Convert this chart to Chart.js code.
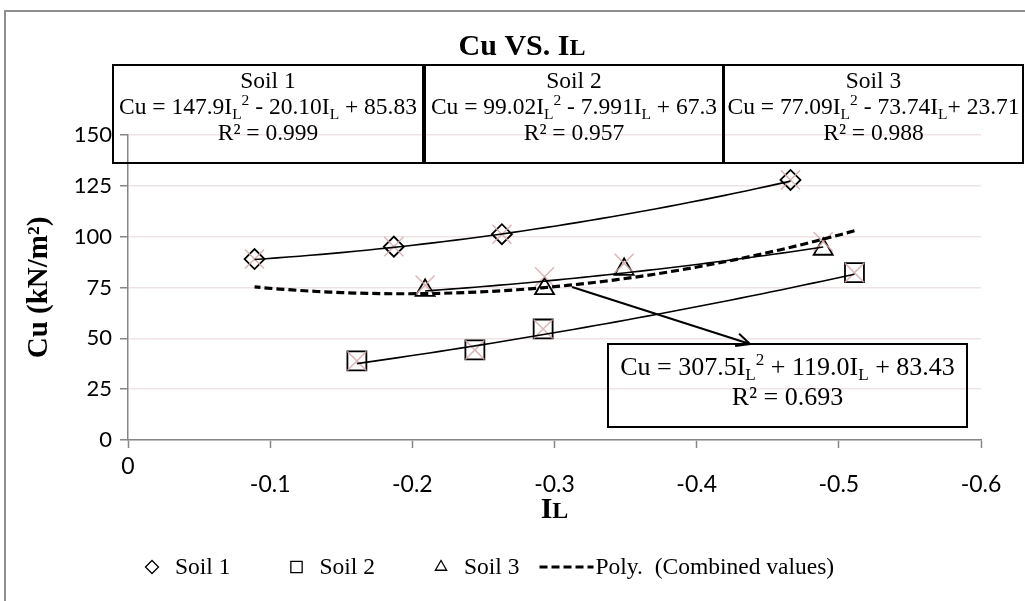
<!DOCTYPE html>
<html>
<head>
<meta charset="utf-8">
<script src="https://cdn.jsdelivr.net/npm/chart.js@4.4.1/dist/chart.umd.min.js"></script>
<style>
  html, body { margin: 0; padding: 0; background: #fff; }
  #wrap { position: relative; width: 1025px; height: 601px; overflow: hidden; }
  #frame { position: absolute; left: 4px; top: 10px; width: 1040px; height: 620px;
           border: 2px solid #8e8e8e; box-sizing: border-box; }
  #wrap canvas { position: absolute; left: 0; top: 0; }
</style>
</head>
<body>
<div id="wrap">
  <div id="frame"></div>
  <canvas id="cuChart"></canvas>
</div>
<script>
// liquidity index IL and undrained shear strength Cu (kN/m²)
const soil1IL = [-0.089, -0.187, -0.263, -0.466];
const soil1Cu = [89.0, 95.1, 101.2, 127.9];
const soil2IL = [-0.161, -0.244, -0.292, -0.511];
const soil2Cu = [38.9, 44.3, 54.6, 82.3];
const soil3IL = [-0.209, -0.293, -0.349, -0.489];
const soil3Cu = [73.6, 74.4, 83.9, 93.8];

// every sample together, plotted as light x markers
const combinedIL = [-0.089, -0.187, -0.263, -0.466, -0.161, -0.244, -0.292, -0.511, -0.209, -0.293, -0.349, -0.489];
const combinedCu = [89.0, 95.1, 101.2, 127.9, 38.9, 44.3, 54.6, 82.3, 76.2, 80.3, 86.9, 97.5];

// polynomial fits, Cu = a*IL^2 + b*IL + c
const fitBox1 = [147.9, -20.10, 85.83];
const fitBox2 = [99.02, -7.991, 67.3];
const fitBox3 = [77.09, -73.74, 23.71];
const fitCombined = [307.5, 119.0, 83.43];

const cuTicks = [0, 25, 50, 75, 100, 125, 150];
const ilTicks = [0, -0.1, -0.2, -0.3, -0.4, -0.5, -0.6];
const ilTickLabels = ['0', '-0.1', '-0.2', '-0.3', '-0.4', '-0.5', '-0.6'];

const legendOrder = ['Soil 1', 'Soil 2', 'Soil 3', 'Poly.  (Combined values)'];

const eqBoxes = [
  { x: 113, y: 65, w: 310, h: 98, lines: ['Soil 1', 'Cu = 147.9I_L^2 - 20.10I_L + 85.83', 'R² = 0.999'] },
  { x: 425, y: 65, w: 298, h: 98, lines: ['Soil 2', 'Cu = 99.02I_L^2 - 7.991I_L + 67.3', 'R² = 0.957'] },
  { x: 724, y: 65, w: 299, h: 98, lines: ['Soil 3', 'Cu = 77.09I_L^2 - 73.74I_L+ 23.71', 'R² = 0.988'] }
];
const combinedBox = { x: 608, y: 344, w: 359, h: 83, lines: ['Cu = 307.5I_L^2 + 119.0I_L + 83.43', 'R² = 0.693'] };

const SERIF = '"Liberation Serif", "Times New Roman", serif';
const SANS = 'Lato, "Liberation Sans", sans-serif';

function pairs(xs, ys) {
  return xs.map((x, i) => ({ x: x, y: ys[i] }));
}

// sample a fitted quadratic over the IL range of its samples
function trend(xs, coef) {
  const lo = Math.min(...xs), hi = Math.max(...xs);
  const pts = [];
  for (let i = 0; i <= 48; i++) {
    const x = lo + (hi - lo) * i / 48;
    pts.push({ x: x, y: coef[0] * x * x + coef[1] * x + coef[2] });
  }
  return pts;
}

// text with _x subscripts, ^x superscripts and ~x small capitals
function runsOf(str) {
  const runs = [];
  let buf = '';
  for (let i = 0; i < str.length; i++) {
    const ch = str[i];
    if ((ch === '_' || ch === '^' || ch === '~') && i + 1 < str.length) {
      if (buf) { runs.push({ t: buf, k: '' }); buf = ''; }
      runs.push({ t: str[i + 1], k: ch });
      i++;
    } else {
      buf += ch;
    }
  }
  if (buf) runs.push({ t: buf, k: '' });
  return runs;
}

function drawRich(ctx, str, cx, baseY, size, weight, family) {
  const runs = runsOf(str);
  const fontFor = k => {
    const s = k === '' ? size : (k === '~' ? size * 0.8 : size * 0.66);
    return weight + ' ' + s + 'px ' + family;
  };
  let total = 0;
  runs.forEach(r => { ctx.font = fontFor(r.k); r.w = ctx.measureText(r.t).width; total += r.w; });
  let x = cx - total / 2;
  ctx.textAlign = 'left';
  ctx.textBaseline = 'alphabetic';
  runs.forEach(r => {
    ctx.font = fontFor(r.k);
    const dy = r.k === '_' ? size * 0.2 : (r.k === '^' ? -size * 0.38 : 0);
    ctx.fillText(r.t, x, baseY + dy);
    x += r.w;
  });
}

function marker(ctx, style, x, y, r) {
  ctx.beginPath();
  if (style === 'rectRot') {
    ctx.moveTo(x - r, y); ctx.lineTo(x, y - r); ctx.lineTo(x + r, y); ctx.lineTo(x, y + r);
  } else if (style === 'rect') {
    const s = r * Math.SQRT1_2;
    ctx.rect(x - s, y - s, 2 * s, 2 * s);
  } else {
    ctx.moveTo(x, y - r);
    ctx.lineTo(x + r * Math.sin(Math.PI / 3), y + r / 2);
    ctx.lineTo(x - r * Math.sin(Math.PI / 3), y + r / 2);
  }
  ctx.closePath();
  ctx.stroke();
}

const annotations = {
  id: 'annotations',
  afterDraw(chart) {
    const ctx = chart.ctx;
    ctx.save();
    ctx.fillStyle = '#000';
    ctx.strokeStyle = '#000';

    drawRich(ctx, 'Cu VS. I~L', 522, 55, 30, 'bold', SERIF);
    drawRich(ctx, 'I~L', (chart.chartArea.left + chart.chartArea.right) / 2, 518, 30, 'bold', SERIF);

    // equation boxes
    ctx.lineWidth = 2;
    eqBoxes.forEach(b => {
      ctx.strokeRect(b.x, b.y, b.w, b.h);
      b.lines.forEach((ln, i) => drawRich(ctx, ln, b.x + b.w / 2, b.y + 23 + i * 26, 23.5, 'normal', SERIF));
    });
    ctx.strokeRect(combinedBox.x, combinedBox.y, combinedBox.w, combinedBox.h);
    combinedBox.lines.forEach((ln, i) => drawRich(ctx, ln, combinedBox.x + combinedBox.w / 2, combinedBox.y + 31 + i * 30, 26, 'normal', SERIF));

    // arrow from the dashed curve to its equation
    const x0 = 572, y0 = 287, x1 = 750, y1 = 344;
    ctx.lineWidth = 2;
    ctx.beginPath();
    ctx.moveTo(x0, y0); ctx.lineTo(x1, y1);
    const ang = Math.atan2(y1 - y0, x1 - x0);
    ctx.moveTo(x1 - 15 * Math.cos(ang - 0.45), y1 - 15 * Math.sin(ang - 0.45));
    ctx.lineTo(x1, y1);
    ctx.lineTo(x1 - 15 * Math.cos(ang + 0.45), y1 - 15 * Math.sin(ang + 0.45));
    ctx.stroke();

    // legend
    const ly = 567;
    ctx.font = '23.5px ' + SERIF;
    ctx.textBaseline = 'middle';
    ctx.textAlign = 'left';
    let x = 146;
    legendOrder.forEach(name => {
      const d = chart.data.datasets.find(s => s.label === name);
      if (d.legendStyle === 'line') {
        x -= 40;
        ctx.save();
        ctx.lineWidth = 3;
        ctx.setLineDash(d.borderDash);
        ctx.beginPath();
        ctx.moveTo(x, ly); ctx.lineTo(x + 54, ly);
        ctx.stroke();
        ctx.restore();
        x += 56;
      } else {
        ctx.lineWidth = 1.3;
        marker(ctx, d.legendStyle, x + 6, ly, d.legendStyle === 'rect' ? 8 : 6.5);
        x += 29;
      }
      ctx.fillText(name, x, ly + 1);
      x += ctx.measureText(name).width + 60;
    });
    ctx.restore();
  }
};

const datasets = [
  { label: 'trend 1', data: trend(soil1IL, fitBox1), showLine: true, pointRadius: 0, borderColor: '#000', borderWidth: 1.6 },
  { label: 'trend 2', data: trend(soil2IL, fitBox3), showLine: true, pointRadius: 0, borderColor: '#000', borderWidth: 1.6 },
  { label: 'trend 3', data: trend(soil3IL, fitBox2), showLine: true, pointRadius: 0, borderColor: '#000', borderWidth: 1.6 },
  { label: 'Poly.  (Combined values)', legendStyle: 'line', data: trend(combinedIL, fitCombined), showLine: true,
    pointRadius: 0, borderColor: '#000', borderWidth: 3.2, borderDash: [8, 4] },
  { label: 'Combined values', data: pairs(combinedIL, combinedCu), pointStyle: 'crossRot', pointRadius: 13.5,
    borderColor: 'rgba(214,170,170,0.85)', borderWidth: 1.5 },
  { label: 'Soil 1', legendStyle: 'rectRot', data: pairs(soil1IL, soil1Cu), pointStyle: 'rectRot', pointRadius: 10,
    borderColor: '#000', backgroundColor: 'rgba(0,0,0,0)', borderWidth: 1.8 },
  { label: 'Soil 2', legendStyle: 'rect', data: pairs(soil2IL, soil2Cu), pointStyle: 'rect', pointRadius: 13.4,
    borderColor: '#000', backgroundColor: 'rgba(0,0,0,0)', borderWidth: 1.8 },
  { label: 'Soil 3', legendStyle: 'triangle', data: pairs(soil3IL, soil3Cu), pointStyle: 'triangle', pointRadius: 11,
    borderColor: '#000', backgroundColor: 'rgba(0,0,0,0)', borderWidth: 1.8 }
];

new Chart(document.getElementById('cuChart'), {
  type: 'scatter',
  data: { datasets: datasets },
  options: {
    responsive: true,
    maintainAspectRatio: false,
    devicePixelRatio: 1,
    animation: false,
    events: [],
    layout: { padding: { left: 0, right: 44, top: 135, bottom: 0 } },
    plugins: { legend: { display: false }, tooltip: { enabled: false } },
    scales: {
      x: {
        type: 'linear',
        min: -0.6,
        max: 0,
        reverse: true,
        afterBuildTicks: s => { s.ticks = ilTicks.map(v => ({ value: v })); },
        afterFit: s => { s.height = 161; s.paddingLeft = 0; s.paddingRight = 0; },
        grid: { drawOnChartArea: false, drawTicks: true, tickLength: 8, tickColor: '#868686', tickWidth: 1.5 },
        border: { color: '#868686', width: 1.5 },
        ticks: {
          color: '#000',
          padding: 10,
          maxRotation: 0,
          font: { family: SANS, size: 23, lineHeight: 0.77 },
          callback: v => {
            const i = ilTicks.findIndex(t => Math.abs(t - v) < 1e-6);
            return i === 0 ? ilTickLabels[i] : ['', ilTickLabels[i]];
          }
        }
      },
      y: {
        min: 0,
        max: 150,
        afterBuildTicks: s => { s.ticks = cuTicks.map(v => ({ value: v })); },
        afterFit: s => { s.width = 128; s.paddingTop = 0; s.paddingBottom = 0; },
        grid: { color: '#efe3e3', lineWidth: 1.5, drawTicks: true, tickLength: 8, tickColor: '#868686', tickWidth: 1.5 },
        border: { color: '#868686', width: 1.5 },
        ticks: { color: '#000', padding: 8, font: { family: SANS, size: 22 } },
        title: {
          display: true,
          text: 'Cu (kN/m²)',
          color: '#000',
          padding: { top: 22, bottom: 0 },
          font: { family: SERIF, size: 29, weight: 'bold' }
        }
      }
    }
  },
  plugins: [annotations]
});
</script>
</body>
</html>
